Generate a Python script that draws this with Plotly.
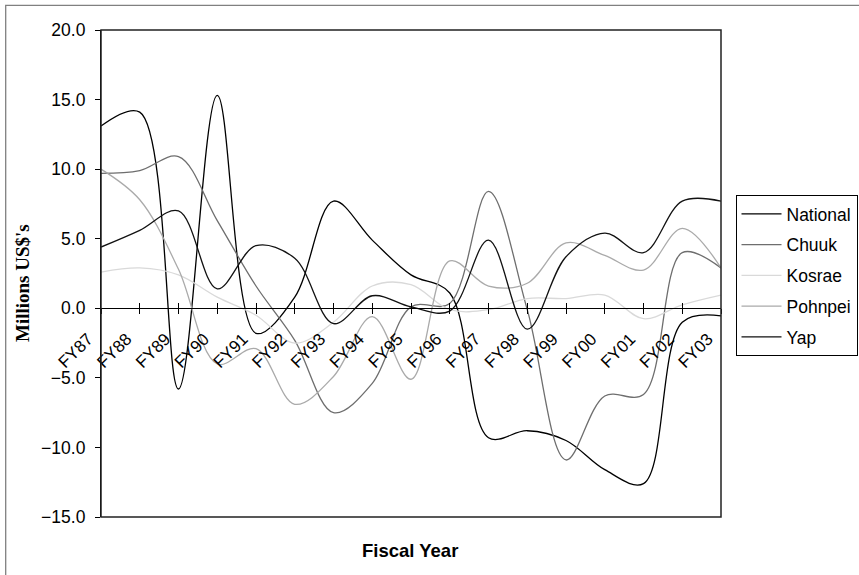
import plotly.graph_objects as go

# Fiscal years on the category axis
years = ["FY87", "FY88", "FY89", "FY90", "FY91", "FY92", "FY93", "FY94", "FY95",
         "FY96", "FY97", "FY98", "FY99", "FY00", "FY01", "FY02", "FY03"]

# Balances by government, millions US$
national = [13.1, 14.1, -5.8, 15.3, -1.8, 0.8, 7.7, 4.9, 2.4, 1.1, -9.3, -8.8, -9.5, -11.6, -12.6, -1.0, -0.55]
chuuk = [9.7, 9.9, 10.9, 6.3, 1.6, -2.3, -7.5, -5.4, 0.1, 0.35, 8.4, -0.1, -10.9, -6.3, -6.2, 4.0, 2.9]
kosrae = [2.6, 2.9, 2.4, 0.8, -0.5, -2.5, -1.0, 1.6, 1.7, -0.1, -0.1, 0.7, 0.7, 0.95, -0.75, 0.25, 0.95]
pohnpei = [10.0, 7.8, 2.8, -4.0, -2.9, -6.9, -4.9, -0.6, -5.1, 3.4, 1.6, 1.8, 4.7, 3.8, 2.75, 5.75, 2.9]
yap = [4.4, 5.6, 7.0, 1.4, 4.5, 3.6, -1.1, 0.9, 0.1, -0.2, 4.9, -1.5, 3.7, 5.4, 4.0, 7.7, 7.7]

y_ticks = [20, 15, 10, 5, 0, -5, -10, -15]

series = [
    ("National", national, "#000000"),
    ("Chuuk", chuuk, "#6e6e6e"),
    ("Kosrae", kosrae, "#d9d9d9"),
    ("Pohnpei", pohnpei, "#aaaaaa"),
    ("Yap", yap, "#111111"),
]

W, H = 859, 575
ML, MR, MT, MB = 101, 138, 30, 58
PW, PH = W - ML - MR, H - MT - MB


def px_x(px):
    return (px - ML) / PW


def px_y(py):
    return (H - MB - py) / PH


FONT = "Liberation Sans, Arial, sans-serif"

fig = go.Figure()
for name, vals, col in series:
    fig.add_trace(go.Scatter(
        x=years, y=vals, name=name, mode="lines", legendgroup=name,
        line=dict(color=col, width=1.3, shape="spline", smoothing=1.0),
    ))

y_min, y_max = -15, 20
zero_pos = (0 - y_min) / (y_max - y_min)

fig.update_layout(
    width=W, height=H,
    margin=dict(l=ML, r=MR, t=MT, b=MB, autoexpand=False),
    paper_bgcolor="white", plot_bgcolor="white",
    font=dict(family=FONT, size=17.5, color="black"),
    xaxis=dict(
        type="category", categoryorder="array", categoryarray=years,
        range=[0, len(years) - 1],
        anchor="free", position=zero_pos,
        showline=True, linecolor="black", linewidth=1.2,
        ticks="outside", ticklen=5, tickcolor="black", tickwidth=1,
        tickangle=-45, showgrid=False, zeroline=False,
        ticklabelstandoff=8, ticklabelshift=-13,
        tickfont=dict(family=FONT, size=17, color="black"),
    ),
    xaxis2=dict(
        overlaying="x", anchor="free", position=zero_pos,
        type="linear", range=[0, len(years) - 1],
        tickvals=list(range(len(years))), ticks="inside", ticklen=5,
        tickcolor="black", tickwidth=1,
        showticklabels=False, showline=False, showgrid=False, zeroline=False,
    ),
    yaxis=dict(
        range=[y_min, y_max], tickvals=y_ticks, tickformat=".1f",
        showline=True, linecolor="black", linewidth=1.2,
        ticks="outside", ticklen=5, tickcolor="black",
        showgrid=False, zeroline=False, ticklabelstandoff=6,
        tickfont=dict(family=FONT, size=17.5, color="black"),
    ),
    legend=dict(
        x=px_x(857.5), y=px_y(195), xanchor="right", yanchor="top",
        bgcolor="white", bordercolor="black", borderwidth=1,
        font=dict(family=FONT, size=17.5, color="black"),
        tracegroupgap=5, itemwidth=40,
    ),
    showlegend=True,
)

fig.add_trace(go.Scatter(x=[], y=[], xaxis="x2", showlegend=False, hoverinfo="skip"))

# plot-area frame and outer chart frame
fig.add_shape(type="rect", xref="paper", yref="paper", x0=0, y0=0, x1=1, y1=1,
              line=dict(color="#222222", width=1.5), layer="above")
fig.add_shape(type="rect", xref="paper", yref="paper",
              x0=px_x(5.7), y0=px_y(H + 20), x1=px_x(W + 20), y1=px_y(5.3),
              line=dict(color="#808080", width=1.3), layer="below")

fig.add_annotation(text="<b>Millions US$'s</b>", xref="paper", yref="paper",
                   x=px_x(22), y=px_y(283), xanchor="center", yanchor="middle",
                   textangle=-90, showarrow=False,
                   font=dict(family="Liberation Serif, Times New Roman, serif", size=19, color="black"))
fig.add_annotation(text="<b>Fiscal Year</b>", xref="paper", yref="paper",
                   x=px_x(410), y=px_y(550), xanchor="center", yanchor="middle",
                   showarrow=False,
                   font=dict(family=FONT, size=18.5, color="black"))

fig.write_html("out.html")
